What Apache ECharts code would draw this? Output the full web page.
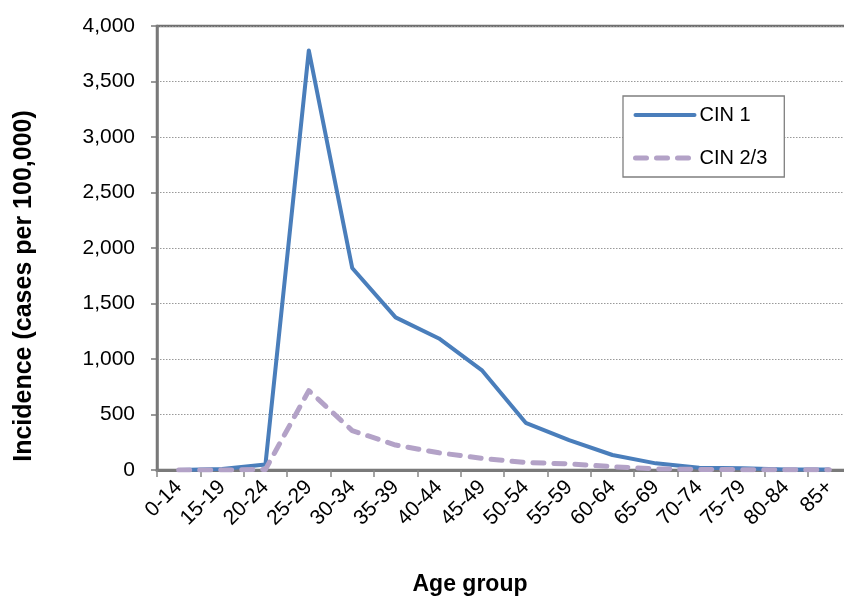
<!DOCTYPE html>
<html><head><meta charset="utf-8">
<script src="https://cdn.jsdelivr.net/npm/echarts@6/dist/echarts.min.js"></script>
<style>html,body{margin:0;padding:0;background:#fff;overflow:hidden}#c{width:870px;height:596px}</style>
</head><body><div id="c"></div>
<script>
const categories = ['0-14','15-19','20-24','25-29','30-34','35-39','40-44','45-49','50-54','55-59','60-64','65-69','70-74','75-79','80-84','85+'];
const cin1 = [0, 10, 50, 3780, 1820, 1375, 1185, 895, 425, 270, 135, 60, 20, 15, 5, 5];
const cin23 = [0, 0, 5, 715, 355, 225, 155, 105, 68, 55, 30, 10, 5, 3, 2, 2];
const yTicks = [0, 500, 1000, 1500, 2000, 2500, 3000, 3500, 4000];

const font = '"Liberation Sans", Arial, sans-serif';
const chart = echarts.init(document.getElementById('c'));
chart.setOption({
  animation: false,
  grid: {left: 157, top: 26, width: 694, height: 444, containLabel: false,
         show: true, borderColor: '#707070', borderWidth: 2.5, backgroundColor: 'transparent'},
  legend: {
    orient: 'vertical', left: 623, top: 96,
    padding: [9, 17, 9, 10], itemGap: 23,
    borderColor: '#7f7f7f', borderWidth: 1.3, backgroundColor: '#fff',
    itemWidth: 59, itemHeight: 14,
    itemStyle: {opacity: 0},
    textStyle: {fontFamily: font, fontSize: 20, color: '#000'},
    data: [
      {name: 'CIN 1', lineStyle: {width: 4, color: '#4a7ebb', cap: 'round'}},
      {name: 'CIN 2/3', lineStyle: {width: 5, color: '#b3a2c7', type: [11, 10], cap: 'round'}}
    ]
  },
  xAxis: {
    type: 'category', data: categories, boundaryGap: true,
    axisLine: {lineStyle: {color: '#7a7a7a', width: 3}},
    axisTick: {show: true, alignWithLabel: false, length: 7, lineStyle: {color: '#868686', width: 1.5}},
    axisLabel: {rotate: 45, interval: 0, fontFamily: font, fontSize: 21, color: '#000', margin: 14}
  },
  yAxis: {
    type: 'value', min: yTicks[0], max: yTicks[yTicks.length-1], interval: 500,
    axisLine: {show: true, lineStyle: {color: '#7a7a7a', width: 2.5}},
    axisTick: {show: true, inside: false, length: 6, lineStyle: {color: '#7a7a7a', width: 1.5}},
    axisLabel: {fontFamily: font, fontSize: 21, color: '#000', margin: 22,
      formatter: v => v.toLocaleString('en-US')},
    splitLine: {show: true, lineStyle: {color: '#999', type: [1.5, 1.5], width: 1}}
  },
  graphic: [
    {type: 'text', x: 24, y: 286, rotation: Math.PI/2, silent: true,
     style: {text: 'Incidence (cases per 100,000)', font: 'bold 25px ' + font, fill: '#000', textAlign: 'center', textVerticalAlign: 'middle'}},
    {type: 'text', x: 470, y: 585, silent: true,
     style: {text: 'Age group', font: 'bold 23px ' + font, fill: '#000', textAlign: 'center', textVerticalAlign: 'middle'}}
  ],
  series: [
    {name: 'CIN 1', type: 'line', data: cin1, symbol: 'none', z: 3,
     lineStyle: {color: '#4a7ebb', width: 4, join: 'round'}, itemStyle: {color: '#4a7ebb'}},
    {name: 'CIN 2/3', type: 'line', data: cin23, symbol: 'none', z: 4,
     lineStyle: {color: '#b3a2c7', width: 5, type: [11, 10], cap: 'round', join: 'round'}, itemStyle: {color: '#b3a2c7'}}
  ]
});
</script></body></html>
